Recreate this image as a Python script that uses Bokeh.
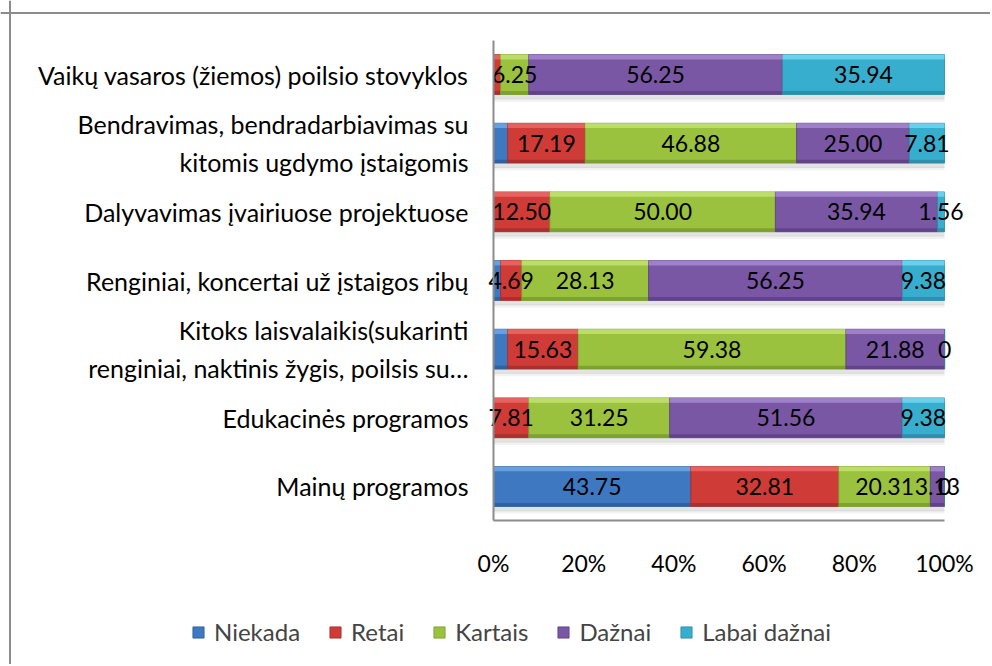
from bokeh.plotting import figure
from bokeh.models import (ColumnDataSource, FixedTicker, Legend, LegendItem,
                          LinearAxis, Span)
from bokeh.core.properties import value
from bokeh.embed import file_html
from bokeh.resources import INLINE

# ---- data (bottom to top) ----
categories = [
    "Mainų programos",
    "Edukacinės programos",
    "Kitoks laisvalaikis(sukarinti\nrenginiai, naktinis žygis, poilsis su…",
    "Renginiai, koncertai už įstaigos ribų",
    "Dalyvavimas įvairiuose projektuose",
    "Bendravimas, bendradarbiavimas su\nkitomis ugdymo įstaigomis",
    "Vaikų vasaros (žiemos) poilsio stovyklos",
]
series_names = ["Niekada", "Retai", "Kartais", "Dažnai", "Labai dažnai"]
niekada = [43.75, 0, 3.13, 1.56, 0, 3.13, 0]
retai = [32.81, 7.81, 15.63, 4.69, 12.50, 17.19, 1.56]
kartais = [20.31, 31.25, 59.38, 28.13, 50.00, 46.88, 6.25]
daznai = [3.13, 51.56, 21.88, 56.25, 35.94, 25.00, 56.25]
labai_daznai = [0, 9.38, 0, 9.38, 1.56, 7.81, 35.94]
x_ticks = [0, 20, 40, 60, 80, 100]
x_tick_labels = ["0%", "20%", "40%", "60%", "80%", "100%"]

series_values = [niekada, retai, kartais, daznai, labai_daznai]
main_colors = ["#3d78c0", "#cf3b37", "#9ac23f", "#7a57a5", "#38aecf"]
light_colors = ["#6ea7e6", "#ea6a66", "#c2e272", "#a688cf", "#74d6f0"]
dark_colors = ["#2c5c98", "#a02d2a", "#779a2c", "#5c3f83", "#2a87a2"]

FONT = "Lato"
BAR_H = 0.58
AXIS_GRAY = "#8c8c8c"

# ---- pixel layout (style only) ----
W, H = 990, 664
X0_PX, X100_PX = 493.0, 944.0        # where 0% and 100% sit
BAND_TOP_PX, BAND_BOT_PX = 39.7, 520.3
n = len(categories)
px_per_x = (X100_PX - X0_PX) / 100.0
px_per_row = (BAND_BOT_PX - BAND_TOP_PX) / n
x_start = -X0_PX / px_per_x
x_end = (W - X0_PX) / px_per_x
y_end = (n - 0.5) + BAND_TOP_PX / px_per_row
y_start = -0.5 - (H - BAND_BOT_PX) / px_per_row

p = figure(width=W, height=H, output_backend="svg", toolbar_location=None,
           x_range=(x_start, x_end), y_range=(y_start, y_end),
           x_axis_location=None, y_axis_location=None, min_border=0)
p.grid.visible = False
p.outline_line_color = None
p.background_fill_color = "white"
p.border_fill_color = "white"

# chart-area border (top and left edges visible)
p.add_layout(Span(location=x_start + 9.5 / px_per_x, dimension="height",
                  line_color=AXIS_GRAY, line_width=2))
p.add_layout(Span(location=y_end - 12.5 / px_per_row, dimension="width",
                  line_color=AXIS_GRAY, line_width=2))

ys = list(range(n))

# soft shadows under each bar
totals = [sum(v[i] for v in series_values) for i in ys]
shadow = ColumnDataSource(dict(y1=[y - BAR_H / 2 - 0.035 for y in ys],
                               y2=[y - BAR_H / 2 - 0.08 for y in ys],
                               r=totals))
p.hbar(y="y1", left=0, right="r", height=0.07, source=shadow,
       fill_color="#9a9a9a", fill_alpha=0.28, line_color=None)
p.hbar(y="y2", left=0, right="r", height=0.05, source=shadow,
       fill_color="#b5b5b5", fill_alpha=0.18, line_color=None)

lefts = [0.0] * n
renderers = []
label_sources = []
for si, vals in enumerate(series_values):
    left = list(lefts)
    right = [l + v for l, v in zip(left, vals)]
    labels = ["0" if v == 0 else f"{v:.2f}" for v in vals]
    show = [not (si in (0, 1) and v < 4) for v in vals]
    src = ColumnDataSource(dict(
        y=ys, left=left, right=right,
        ytop=[y + BAR_H / 2 - 0.035 for y in ys],
        ybot=[y - BAR_H / 2 + 0.025 for y in ys]))
    r = p.hbar(y="y", left="left", right="right", height=BAR_H, source=src,
               fill_color=main_colors[si], line_color=dark_colors[si], line_width=0.8)
    p.hbar(y="ytop", left="left", right="right", height=0.07, source=src,
           fill_color=light_colors[si], fill_alpha=0.85, line_color=None)
    p.hbar(y="ybot", left="left", right="right", height=0.05, source=src,
           fill_color=dark_colors[si], fill_alpha=0.8, line_color=None)
    renderers.append(r)
    mids = [(l + rr) / 2 for l, rr in zip(left, right)]
    label_sources.append(ColumnDataSource(dict(
        x=[m for m, s in zip(mids, show) if s],
        y=[y for y, s in zip(ys, show) if s],
        t=[t for t, s in zip(labels, show) if s])))
    lefts = right

for lab in label_sources:
    p.text(x="x", y="y", text="t", source=lab, text_align="center",
           text_baseline="middle", text_font=value(FONT), text_font_size="23px",
           text_color="black")

# axes fixed at the plot-area edges
xaxis = LinearAxis(fixed_location=-0.5, bounds=(x_ticks[0], x_ticks[-1]),
                   ticker=FixedTicker(ticks=x_ticks),
                   major_label_overrides={t: l for t, l in zip(x_ticks, x_tick_labels)})
yaxis = LinearAxis(fixed_location=0, bounds=(-0.5, n - 0.5),
                   ticker=FixedTicker(ticks=ys),
                   major_label_overrides={y: c for y, c in zip(ys, categories)})
for ax in (xaxis, yaxis):
    ax.axis_line_color = AXIS_GRAY
    ax.axis_line_width = 2
    ax.major_tick_line_color = None
    ax.minor_tick_line_color = None
    ax.major_label_text_font = FONT
    ax.major_label_text_color = "black"
xaxis.major_label_text_font_size = "23px"
yaxis.major_label_text_font_size = "25px"
yaxis.major_label_text_line_height = 1.28
xaxis.major_label_standoff = 22
yaxis.major_label_standoff = 19
p.add_layout(xaxis, "below")
p.add_layout(yaxis, "left")

legend = Legend(items=[LegendItem(label=nm, renderers=[r]) for nm, r in zip(series_names, renderers)],
                orientation="horizontal", location=(191, 18),
                glyph_width=14, glyph_height=14, label_text_font=FONT,
                label_text_font_size="24px", label_standoff=9, spacing=28,
                padding=0, margin=0, border_line_color=None, background_fill_alpha=0)
p.add_layout(legend, "center")

open("out.html", "w").write(file_html(p, INLINE))
